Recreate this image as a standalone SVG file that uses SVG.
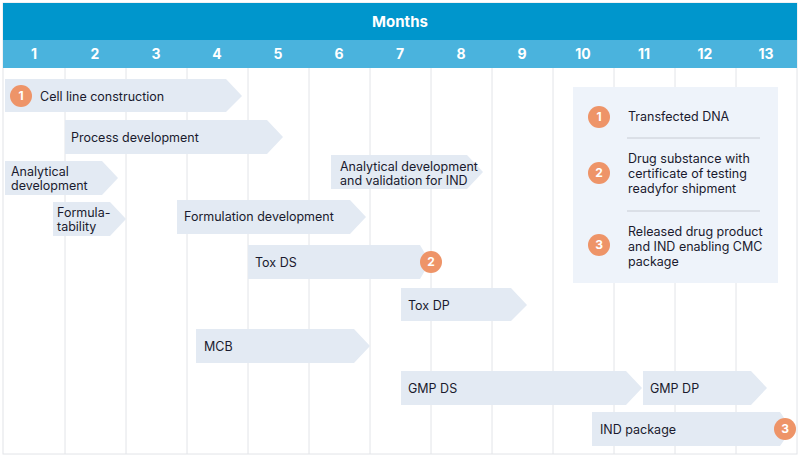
<svg xmlns="http://www.w3.org/2000/svg" width="800" height="457" viewBox="0 0 800 457">
<style>
.bar{fill:#e3eaf3}
.t{font-family:Inter,"Liberation Sans",sans-serif;font-size:12.5px;fill:#1a1a2e}
.h{font-family:Inter,"Liberation Sans",sans-serif;font-weight:bold;fill:#fff;text-anchor:middle}
.g{stroke:#e2e4e8;stroke-width:1}
.b{fill:#ee9468}
.bt{font-family:Inter,"Liberation Sans",sans-serif;font-weight:bold;font-size:12px;fill:#fff;text-anchor:middle}
</style>
<rect x="3" y="3" width="794" height="451" fill="#fff" stroke="#e2e4e8"/>
<g id="grid" class="g">
<line x1="65" y1="68" x2="65" y2="454"/><line x1="126" y1="68" x2="126" y2="454"/><line x1="187" y1="68" x2="187" y2="454"/><line x1="248" y1="68" x2="248" y2="454"/><line x1="309" y1="68" x2="309" y2="454"/><line x1="370" y1="68" x2="370" y2="454"/><line x1="431" y1="68" x2="431" y2="454"/><line x1="492" y1="68" x2="492" y2="454"/><line x1="553" y1="68" x2="553" y2="454"/><line x1="614" y1="68" x2="614" y2="454"/><line x1="675" y1="68" x2="675" y2="454"/><line x1="736" y1="68" x2="736" y2="454"/>
</g>
<g id="header">
<rect x="3" y="3" width="794" height="37" fill="#0096cc"/>
<text class="h" x="400" y="27" font-size="15">Months</text>
<rect x="3" y="40" width="794" height="28" fill="#4ab3dd"/>
<g font-size="14">
<text class="h" x="34" y="59">1</text><text class="h" x="95" y="59">2</text><text class="h" x="156" y="59">3</text><text class="h" x="217" y="59">4</text><text class="h" x="278" y="59">5</text><text class="h" x="339" y="59">6</text><text class="h" x="400" y="59">7</text><text class="h" x="461" y="59">8</text><text class="h" x="522" y="59">9</text><text class="h" x="583" y="59">10</text><text class="h" x="644" y="59">11</text><text class="h" x="705" y="59">12</text><text class="h" x="766" y="59">13</text>
</g>
</g>
<g id="cell-line"><polygon class="bar" points="5,79 226,79 242,96 226,112 5,112"/><circle class="b" cx="21" cy="96" r="11"/><text class="bt" x="21" y="100">1</text><text class="t" x="40" y="101">Cell line construction</text></g>
<g id="process"><polygon class="bar" points="65,120 267,120 283,137 267,154 65,154"/><text class="t" x="71" y="142">Process development</text></g>
<g id="analytical"><polygon class="bar" points="5,161 102,161 118,178 102,195 5,195"/><text class="t" x="11" y="176">Analytical</text><text class="t" x="11" y="190">development</text></g>
<g id="formulatability"><polygon class="bar" points="53,202 110,202 126,219 110,236 53,236"/><text class="t" x="57" y="217">Formula-</text><text class="t" x="57" y="231">tability</text></g>
<g id="formulation"><polygon class="bar" points="177,200 350,200 366,217 350,234 177,234"/><text class="t" x="184" y="221">Formulation development</text></g>
<g id="analytical-val"><polygon class="bar" points="331,155 467,155 483,172 467,189 331,189"/><text class="t" x="340" y="171">Analytical development</text><text class="t" x="340" y="185">and validation for IND</text></g>
<g id="tox-ds"><polygon class="bar" points="248,245 420,245 430,262 420,279 248,279"/><text class="t" x="255" y="267">Tox DS</text><circle class="b" cx="431" cy="262" r="11"/><text class="bt" x="431" y="266">2</text></g>
<g id="tox-dp"><polygon class="bar" points="401,288 511,288 527,305 511,321 401,321"/><text class="t" x="408" y="310">Tox DP</text></g>
<g id="mcb"><polygon class="bar" points="196,329 354,329 370,346 354,363 196,363"/><text class="t" x="204" y="351">MCB</text></g>
<g id="gmp-ds"><polygon class="bar" points="401,371 626,371 642,388 626,405 401,405"/><text class="t" x="408" y="393">GMP DS</text></g>
<g id="gmp-dp"><polygon class="bar" points="643,371 751,371 767,388 751,405 643,405"/><text class="t" x="650" y="393">GMP DP</text></g>
<g id="ind"><polygon class="bar" points="592,412 780,412 792,429 780,446 592,446"/><text class="t" x="600" y="434">IND package</text><circle class="b" cx="785" cy="429" r="11"/><text class="bt" x="785" y="433">3</text></g>
<g id="legend">
<rect x="573" y="87" width="205" height="196" fill="#eef3fa"/>
<line x1="627" y1="138" x2="760" y2="138" stroke="#c8ccd4"/>
<line x1="627" y1="211" x2="760" y2="211" stroke="#c8ccd4"/>
<circle class="b" cx="599" cy="117" r="11"/><text class="bt" x="599" y="121">1</text>
<text class="t" x="628" y="121">Transfected DNA</text>
<circle class="b" cx="599" cy="173" r="11"/><text class="bt" x="599" y="177">2</text>
<text class="t" x="628" y="163">Drug substance with</text><text class="t" x="628" y="178">certificate of testing</text><text class="t" x="628" y="193">readyfor shipment</text>
<circle class="b" cx="599" cy="245" r="11"/><text class="bt" x="599" y="249">3</text>
<text class="t" x="628" y="236">Released drug product</text><text class="t" x="628" y="251">and IND enabling CMC</text><text class="t" x="628" y="266">package</text>
</g>
</svg>
